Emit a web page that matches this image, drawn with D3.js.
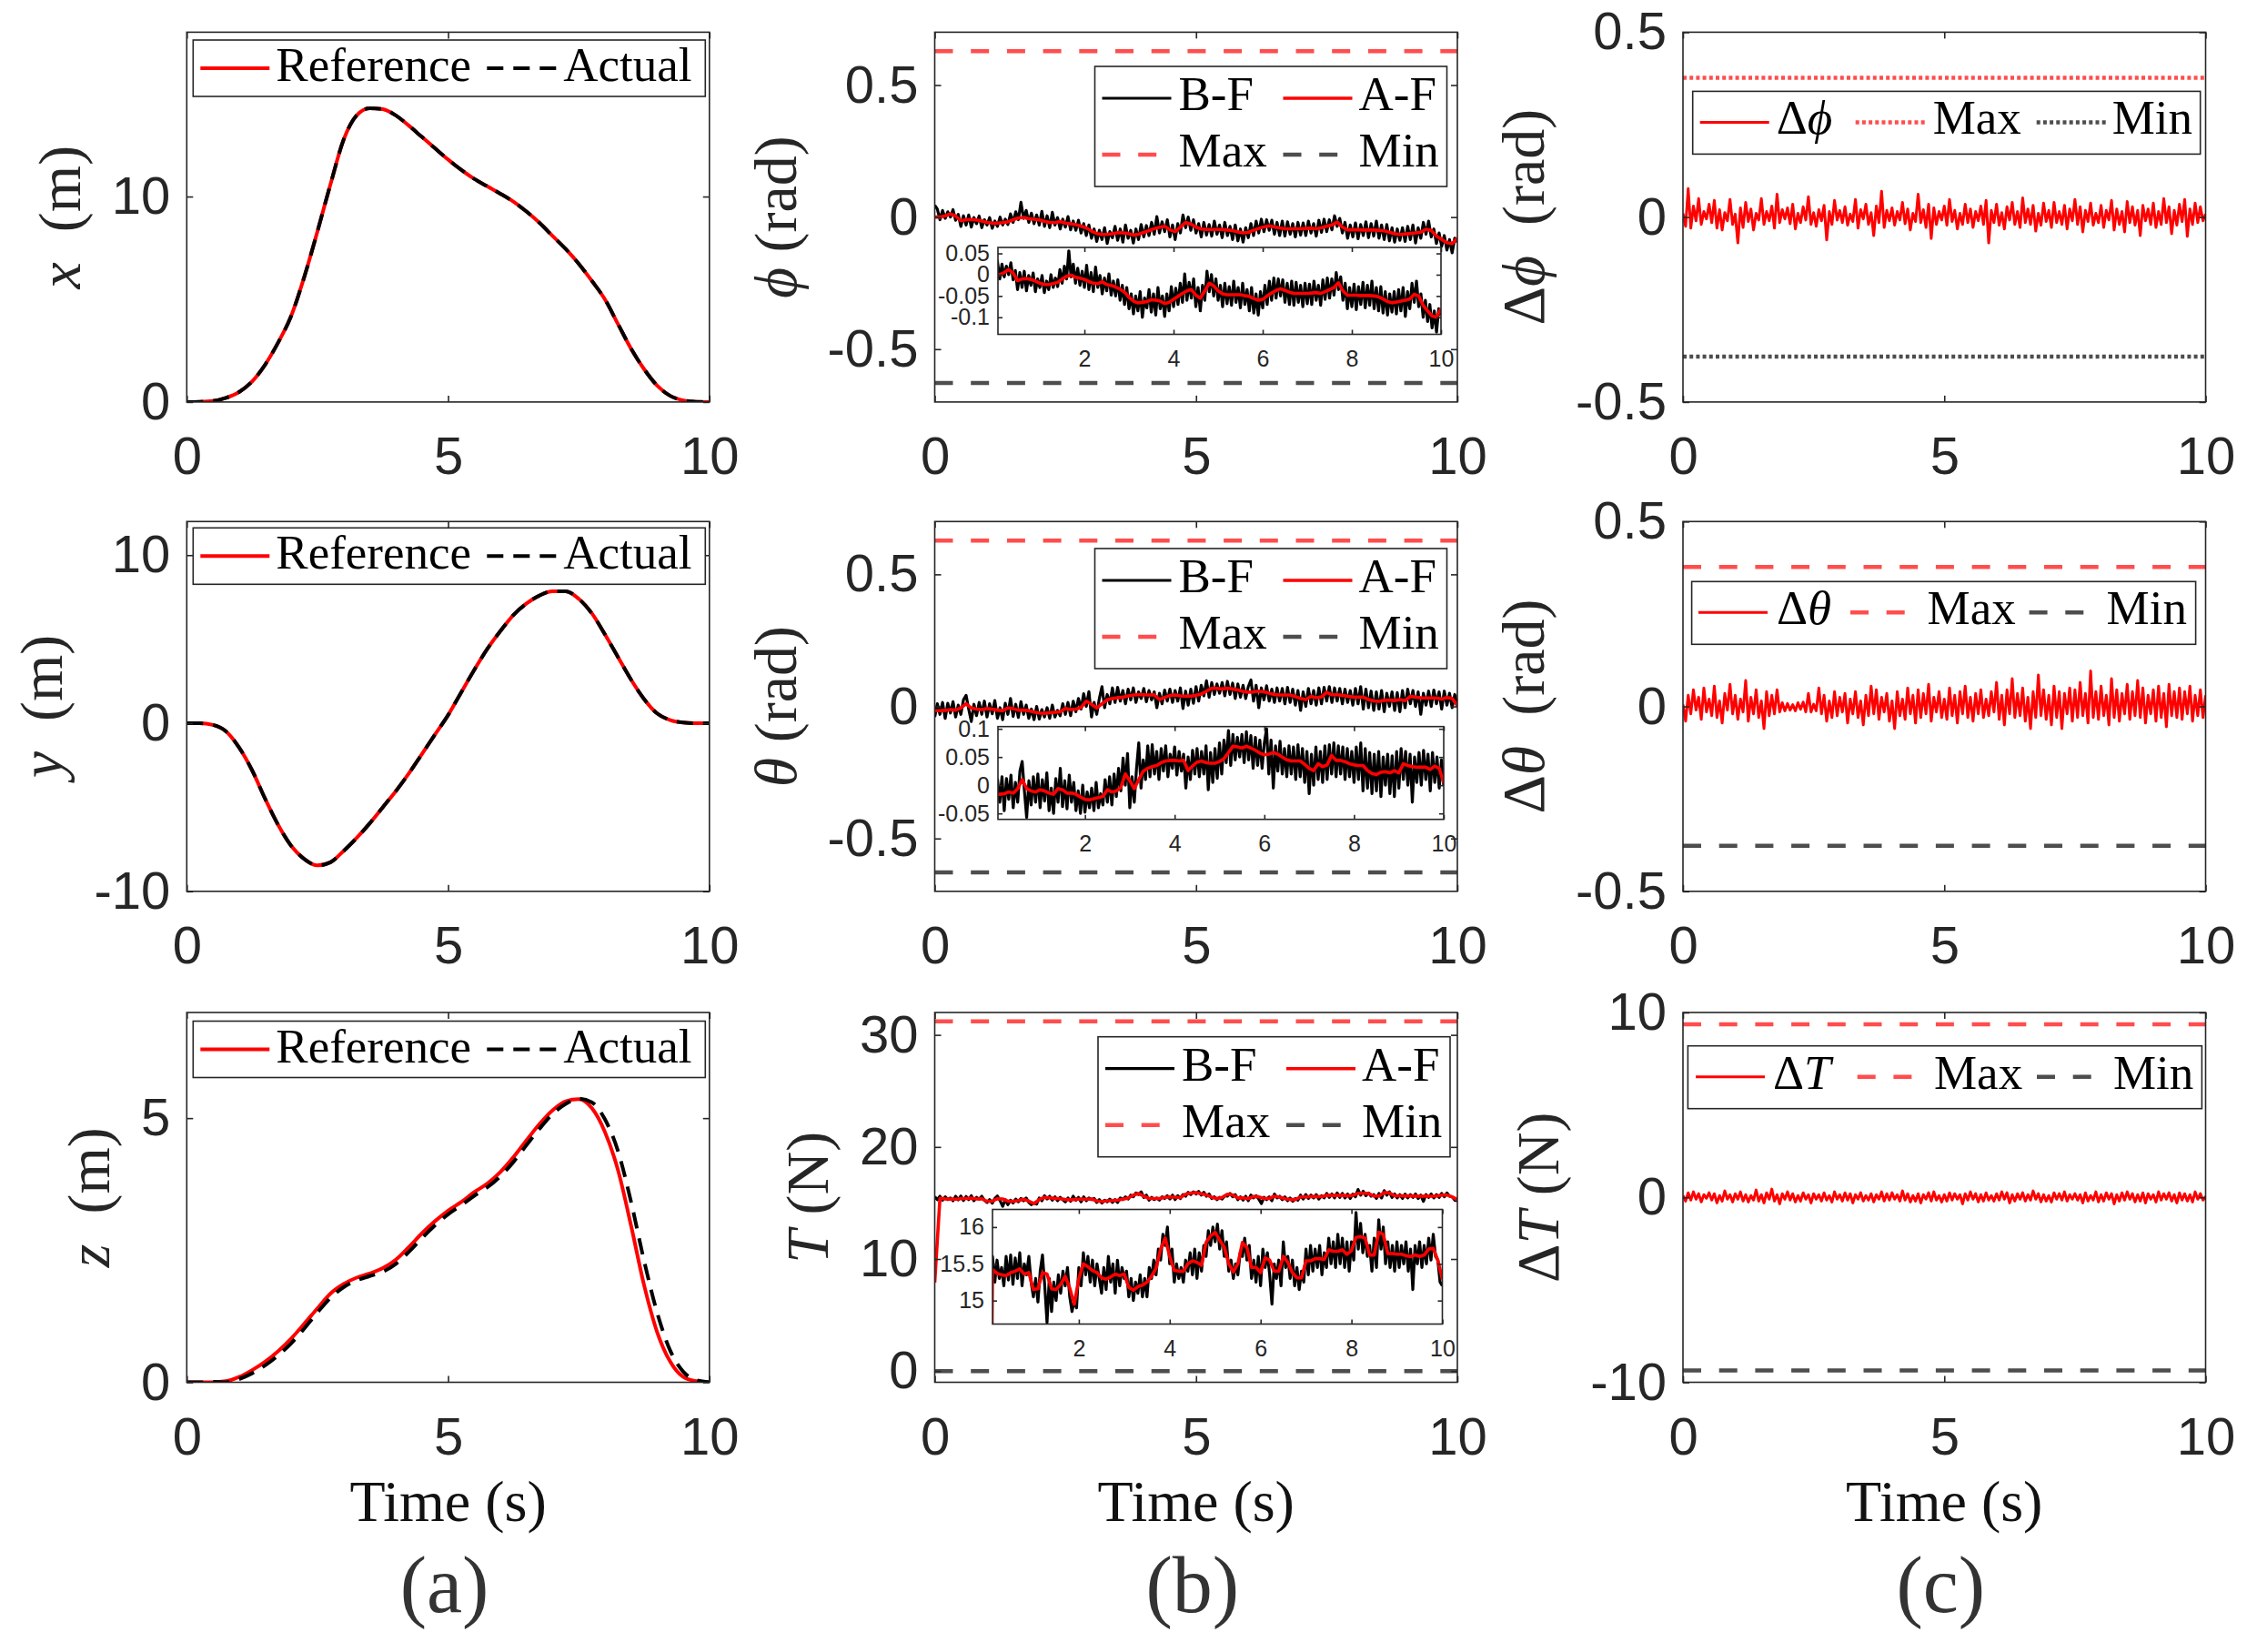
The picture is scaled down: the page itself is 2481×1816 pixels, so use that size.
<!DOCTYPE html>
<html>
<head>
<meta charset="utf-8">
<script src="https://cdn.jsdelivr.net/npm/d3@7"></script>
<style>
  body { margin: 0; background: #fff; }
  text { white-space: pre; }
</style>
</head>
<body>
<svg id="fig" width="2481" height="1816"></svg>
<script>
// time bases (s)
const tSmooth = d3.range(41).map(i => i * 0.25);
const tCoarse = d3.range(101).map(i => i * 0.1);
const tFine = d3.range(201).map(i => i * 0.05);

// column (a): position tracking, reference vs actual (m)
const xRef = [0, 0.01, 0.05, 0.2, 0.48, 1.0, 1.82, 2.9, 4.2, 6.1, 8.3, 10.6, 12.76, 13.95, 14.3, 14.25, 13.95, 13.45, 12.9, 12.35,
  11.8, 11.3, 10.86, 10.5, 10.14, 9.75, 9.27, 8.72, 8.08, 7.45, 6.73, 5.9, 5.0, 3.8, 2.6, 1.6, 0.8, 0.3, 0.08, 0.01, 0];
const xAct = [0, 0.01, 0.05, 0.2, 0.48, 1.0, 1.82, 2.9, 4.2, 6.1, 8.3, 10.6, 12.76, 13.95, 14.3, 14.25, 13.95, 13.45, 12.9, 12.35,
  11.8, 11.3, 10.86, 10.5, 10.14, 9.75, 9.27, 8.72, 8.08, 7.45, 6.73, 5.9, 5.0, 3.8, 2.6, 1.6, 0.8, 0.3, 0.08, 0.01, 0];
const yRef = [0, 0, -0.1, -0.48, -1.44, -2.8, -4.5, -6.06, -7.3, -8.08, -8.46, -8.27, -7.6, -6.83, -5.96, -5.0, -4.04, -2.98, -1.83, -0.67,
  0.48, 1.83, 3.17, 4.42, 5.48, 6.44, 7.12, 7.6, 7.85, 7.85, 7.4, 6.54, 5.29, 3.94, 2.6, 1.44, 0.58, 0.19, 0.04, 0, 0];
const yAct = [0, 0, -0.1, -0.48, -1.44, -2.8, -4.5, -6.06, -7.3, -8.08, -8.46, -8.27, -7.6, -6.83, -5.96, -5.0, -4.04, -2.98, -1.83, -0.67,
  0.48, 1.83, 3.17, 4.42, 5.48, 6.44, 7.12, 7.6, 7.85, 7.85, 7.4, 6.54, 5.29, 3.94, 2.6, 1.44, 0.58, 0.19, 0.04, 0, 0];
const zRef = [0, 0, 0, 0.02, 0.1, 0.23, 0.39, 0.59, 0.83, 1.11, 1.4, 1.68, 1.86, 1.98, 2.06, 2.16, 2.32, 2.56, 2.82, 3.05,
  3.25, 3.41, 3.6, 3.76, 3.98, 4.26, 4.58, 4.89, 5.15, 5.32, 5.36, 5.19, 4.74, 4.02, 2.97, 1.84, 0.95, 0.39, 0.1, 0.02, 0];
const zAct = [0, 0, 0.01, 0, 0.06, 0.17, 0.32, 0.51, 0.74, 1.02, 1.32, 1.6, 1.8, 1.93, 2.01, 2.09, 2.24, 2.47, 2.73, 2.97,
  3.18, 3.35, 3.53, 3.69, 3.9, 4.17, 4.49, 4.8, 5.08, 5.27, 5.37, 5.3, 4.98, 4.38, 3.42, 2.3, 1.32, 0.6, 0.2, 0.04, 0];

// column (b): before filtering (B-F, every 0.05 s) and after filtering (A-F, every 0.1 s)
const phiBF = [
  0.045, 0.030, -0.010, 0.025, -0.005, 0.020, 0.000, 0.028, -0.012, 0.010,
  -0.035, 0.005, -0.030, 0.008, -0.038, -0.002, -0.025, 0.004, -0.040, -0.010,
  -0.030, -0.002, -0.042, -0.015, -0.035, 0.000, -0.030, -0.008, -0.028, 0.012,
  -0.020, 0.020, -0.010, 0.056, -0.005, 0.025, -0.020, 0.015, -0.025, 0.008,
  -0.030, 0.022, -0.035, 0.005, -0.040, 0.018, -0.030, -0.002, -0.045, -0.008,
  -0.038, 0.002, -0.048, -0.015, -0.050, -0.012, -0.060, -0.025, -0.070, -0.030,
  -0.080, -0.045, -0.092, -0.050, -0.085, -0.040, -0.100, -0.055, -0.078, -0.035,
  -0.088, -0.045, -0.095, -0.030, -0.080, -0.050, -0.098, -0.045, -0.085, -0.028,
  -0.075, -0.032, -0.070, -0.020, -0.065, 0.002, -0.060, -0.018, -0.055, -0.010,
  -0.075, -0.030, -0.085, -0.025, -0.060, 0.008, -0.040, 0.000, -0.050, -0.010,
  -0.060, -0.025, -0.075, -0.020, -0.068, -0.028, -0.072, -0.015, -0.065, -0.030,
  -0.078, -0.020, -0.070, -0.035, -0.085, -0.030, -0.090, -0.045, -0.095, -0.040,
  -0.078, -0.025, -0.070, -0.015, -0.060, -0.008, -0.055, -0.010, -0.050, -0.012,
  -0.065, -0.020, -0.070, -0.015, -0.072, -0.018, -0.065, -0.025, -0.075, -0.020,
  -0.068, -0.022, -0.070, -0.015, -0.060, -0.025, -0.072, -0.012, -0.058, -0.008,
  -0.055, -0.010, -0.048, 0.005, -0.035, -0.005, -0.060, -0.020, -0.080, -0.030,
  -0.075, -0.022, -0.082, -0.028, -0.070, -0.018, -0.078, -0.025, -0.072, -0.015,
  -0.080, -0.030, -0.085, -0.028, -0.090, -0.040, -0.095, -0.045, -0.088, -0.040,
  -0.092, -0.035, -0.085, -0.030, -0.098, -0.040, -0.080, -0.020, -0.065, -0.015,
  -0.075, -0.045, -0.100, -0.060, -0.110, -0.070, -0.125, -0.085, -0.135, -0.080,
  -0.095];
const phiAF = [
  0.000, 0.000, 0.005, 0.012, 0.004, -0.014, -0.010, -0.009, -0.011, -0.015,
  -0.020, -0.023, -0.023, -0.021, -0.018, -0.010, -0.004, -0.001, -0.006, -0.008,
  -0.011, -0.016, -0.020, -0.021, -0.017, -0.023, -0.025, -0.029, -0.034, -0.041,
  -0.053, -0.062, -0.066, -0.065, -0.063, -0.059, -0.060, -0.062, -0.068, -0.065,
  -0.058, -0.051, -0.044, -0.038, -0.035, -0.048, -0.055, -0.038, -0.020, -0.026,
  -0.038, -0.045, -0.047, -0.047, -0.047, -0.047, -0.049, -0.051, -0.056, -0.060,
  -0.058, -0.050, -0.043, -0.037, -0.033, -0.037, -0.041, -0.044, -0.044, -0.044,
  -0.044, -0.043, -0.042, -0.044, -0.040, -0.035, -0.030, -0.019, -0.038, -0.048,
  -0.048, -0.048, -0.049, -0.049, -0.049, -0.050, -0.052, -0.057, -0.063, -0.066,
  -0.064, -0.062, -0.060, -0.057, -0.046, -0.050, -0.072, -0.085, -0.097, -0.100,
  -0.080];
const thetaBF = [
  -0.040, 0.010, -0.030, 0.015, -0.045, 0.012, -0.025, 0.018, -0.040, 0.005,
  -0.030, 0.025, 0.042, -0.010, -0.057, 0.008, -0.035, 0.015, -0.030, 0.020,
  -0.040, 0.010, -0.028, 0.022, -0.045, -0.005, -0.050, 0.012, -0.030, 0.030,
  -0.038, 0.008, -0.042, 0.018, -0.030, 0.005, -0.045, -0.010, -0.050, 0.000,
  -0.048, -0.012, -0.040, -0.005, -0.045, 0.005, -0.040, -0.015, -0.035, 0.010,
  -0.030, 0.015, -0.035, 0.020, -0.020, 0.030, -0.010, 0.048, 0.000, 0.056,
  -0.040, 0.015, -0.030, 0.030, 0.075, -0.005, 0.045, 0.010, 0.070, 0.015,
  0.072, 0.020, 0.060, 0.010, 0.065, 0.025, 0.070, 0.015, 0.055, 0.030,
  0.068, 0.018, 0.060, 0.025, 0.055, -0.005, 0.050, 0.010, 0.062, 0.020,
  0.065, 0.015, 0.060, 0.020, 0.070, -0.008, 0.058, 0.005, 0.065, 0.012,
  0.075, 0.020, 0.080, 0.040, 0.097, 0.035, 0.090, 0.045, 0.085, 0.050,
  0.090, 0.040, 0.095, 0.045, 0.088, 0.030, 0.085, 0.035, 0.080, 0.030,
  0.075, 0.100, 0.020, 0.080, -0.005, 0.070, 0.025, 0.078, 0.020, 0.065,
  0.015, 0.070, 0.020, 0.068, 0.010, 0.072, 0.015, 0.065, 0.005, 0.060,
  -0.015, 0.055, 0.000, 0.068, 0.010, 0.060, 0.005, 0.070, 0.010, 0.072,
  0.020, 0.075, 0.015, 0.070, 0.020, 0.068, 0.010, 0.065, 0.015, 0.060,
  0.005, 0.068, 0.010, 0.075, -0.010, 0.065, -0.005, 0.058, -0.015, 0.055,
  -0.010, 0.060, -0.020, 0.050, 0.000, 0.055, -0.015, 0.052, -0.020, 0.060,
  -0.005, 0.065, 0.010, 0.060, 0.000, 0.055, -0.030, 0.050, 0.005, 0.058,
  0.000, 0.062, 0.010, 0.055, -0.010, 0.058, 0.005, 0.050, -0.005, 0.045,
  0.000];
const thetaAF = [
  -0.016, -0.016, -0.015, -0.012, -0.014, -0.006, 0.010, -0.006, -0.010, -0.012,
  -0.008, -0.010, -0.014, -0.016, -0.006, -0.008, -0.014, -0.014, -0.016, -0.021,
  -0.025, -0.026, -0.024, -0.022, -0.020, -0.008, -0.012, -0.010, -0.004, 0.020,
  0.008, -0.006, 0.010, 0.025, 0.030, 0.033, 0.035, 0.040, 0.043, 0.044,
  0.044, 0.043, 0.044, 0.026, 0.034, 0.041, 0.043, 0.040, 0.039, 0.039,
  0.042, 0.047, 0.058, 0.069, 0.068, 0.066, 0.069, 0.066, 0.062, 0.057,
  0.054, 0.055, 0.058, 0.055, 0.050, 0.045, 0.043, 0.043, 0.043, 0.037,
  0.030, 0.026, 0.038, 0.033, 0.036, 0.053, 0.044, 0.044, 0.042, 0.038,
  0.036, 0.035, 0.035, 0.026, 0.021, 0.019, 0.023, 0.024, 0.022, 0.026,
  0.022, 0.038, 0.035, 0.033, 0.032, 0.032, 0.032, 0.028, 0.034, 0.030,
  0.004];
const thrustBF = [
  15.55, 15.30, 15.60, 15.25, 15.55, 15.30, 15.45, 15.20, 15.60, 15.28,
  15.62, 15.22, 15.58, 15.30, 15.65, 15.20, 15.50, 15.35, 15.60, 15.25,
  15.05, 15.30, 14.98, 15.40, 15.62, 15.20, 14.70, 15.30, 14.85, 15.25,
  15.00, 15.35, 15.10, 15.40, 15.20, 15.45, 15.05, 14.85, 15.00, 14.90,
  15.45, 15.20, 15.65, 15.35, 15.60, 15.25, 15.55, 15.20, 15.50, 15.30,
  15.10, 15.45, 15.15, 15.60, 15.25, 15.50, 15.10, 15.55, 15.20, 15.45,
  15.30, 15.40, 15.05, 15.30, 15.00, 15.25, 15.10, 15.35, 15.05, 15.30,
  15.05, 15.45, 15.30, 15.55, 15.35, 15.70, 15.55, 15.90, 15.75, 16.00,
  15.50, 15.70, 15.25, 15.50, 15.30, 15.45, 15.25, 15.55, 15.40, 15.65,
  15.35, 15.70, 15.30, 15.65, 15.40, 15.75, 15.60, 15.95, 15.75, 16.00,
  15.80, 16.04, 15.70, 15.95, 15.60, 15.80, 15.40, 15.55, 15.30, 15.50,
  15.35, 15.65, 15.60, 15.85, 15.55, 15.75, 15.30, 15.55, 15.25, 15.60,
  15.20, 15.70, 15.45, 15.65, 15.35, 14.95, 15.50, 15.30, 15.55, 15.20,
  15.80, 15.45, 15.60, 15.30, 15.55, 15.20, 15.45, 15.15, 15.40, 15.25,
  15.70, 15.35, 15.75, 15.40, 15.70, 15.45, 15.75, 15.35, 15.65, 15.45,
  15.85, 15.50, 15.80, 15.45, 15.90, 15.50, 15.85, 15.45, 15.80, 15.40,
  15.80, 15.55, 16.20, 15.70, 16.05, 15.65, 15.90, 15.60, 15.75, 15.40,
  15.85, 15.45, 16.10, 15.70, 16.00, 15.50, 15.80, 15.45, 15.75, 15.40,
  15.80, 15.45, 15.75, 15.50, 15.80, 15.40, 15.70, 15.15, 15.75, 15.50,
  15.80, 15.45, 15.75, 15.50, 15.85, 15.55, 15.90, 15.60, 15.55, 15.25,
  15.20];
const thrustAF = [
  7.90, 15.42, 15.37, 15.35, 15.34, 15.38, 15.40, 15.43, 15.36, 15.38,
  15.15, 15.16, 15.38, 15.36, 15.16, 15.15, 15.22, 15.33, 15.17, 14.95,
  15.30, 15.50, 15.46, 15.41, 15.38, 15.31, 15.29, 15.32, 15.36, 15.34,
  15.36, 15.18, 15.14, 15.19, 15.21, 15.25, 15.33, 15.44, 15.70, 15.85,
  15.60, 15.41, 15.40, 15.40, 15.50, 15.54, 15.52, 15.48, 15.79, 15.88,
  15.93, 15.82, 15.73, 15.50, 15.39, 15.50, 15.79, 15.72, 15.45, 15.45,
  15.38, 15.58, 15.55, 15.40, 15.40, 15.60, 15.52, 15.38, 15.31, 15.31,
  15.54, 15.54, 15.57, 15.57, 15.56, 15.69, 15.67, 15.67, 15.69, 15.63,
  15.68, 15.86, 15.87, 15.85, 15.62, 15.62, 15.93, 15.90, 15.64, 15.64,
  15.63, 15.63, 15.61, 15.60, 15.62, 15.60, 15.62, 15.70, 15.71, 15.55,
  15.29];

// column (c): tracking errors, every 0.05 s
const dPhi = [
  0.010, -0.025, 0.077, -0.030, 0.030, -0.010, 0.050, -0.020, 0.015, -0.005,
  0.035, -0.015, 0.045, -0.030, 0.020, -0.035, 0.012, -0.010, 0.048, -0.020,
  0.008, -0.070, 0.025, -0.028, 0.040, -0.012, 0.022, -0.035, 0.010, -0.008,
  0.050, -0.020, 0.015, -0.010, 0.030, -0.030, 0.062, -0.015, 0.020, -0.005,
  0.025, -0.018, 0.035, -0.032, 0.010, -0.015, 0.028, -0.008, 0.055, -0.020,
  0.012, -0.025, 0.020, -0.010, 0.032, -0.062, 0.015, -0.020, 0.045, -0.008,
  0.018, -0.015, 0.028, -0.022, 0.008, -0.012, 0.048, -0.030, 0.020, -0.005,
  0.035, -0.020, 0.012, -0.050, 0.030, -0.015, 0.070, -0.028, 0.018, -0.010,
  0.025, -0.022, 0.015, -0.008, 0.040, -0.018, 0.022, -0.035, 0.010, -0.012,
  0.062, -0.015, 0.020, -0.028, 0.035, -0.058, 0.025, -0.020, 0.015, -0.008,
  0.030, -0.022, 0.048, -0.012, 0.018, -0.032, 0.010, -0.020, 0.035, -0.015,
  0.022, -0.028, 0.015, -0.010, 0.030, -0.020, 0.045, -0.070, 0.018, -0.015,
  0.035, -0.022, 0.012, -0.032, 0.028, -0.008, 0.040, -0.020, 0.015, -0.028,
  0.052, -0.015, 0.022, -0.020, 0.032, -0.038, 0.010, -0.022, 0.038, -0.012,
  0.018, -0.028, 0.040, -0.015, 0.015, -0.020, 0.032, -0.032, 0.022, -0.010,
  0.048, -0.020, 0.028, -0.040, 0.018, -0.012, 0.038, -0.022, 0.010, -0.015,
  0.032, -0.028, 0.018, -0.008, 0.045, -0.035, 0.022, -0.020, 0.015, -0.040,
  0.042, -0.015, 0.028, -0.022, 0.018, -0.050, 0.032, -0.010, 0.022, -0.020,
  0.038, -0.028, 0.015, -0.020, 0.050, -0.015, 0.028, -0.045, 0.018, -0.022,
  0.035, -0.012, 0.048, -0.052, 0.022, -0.020, 0.038, -0.015, 0.028, -0.010,
  0.008];
const dTheta = [
  0.005, -0.040, 0.030, -0.020, 0.045, -0.010, 0.025, -0.035, 0.050, -0.015,
  0.020, -0.025, 0.055, -0.030, 0.015, -0.045, 0.035, -0.010, 0.060, -0.020,
  0.030, -0.035, 0.020, -0.015, 0.070, -0.040, 0.025, -0.020, 0.045, -0.030,
  0.015, -0.060, 0.040, -0.025, 0.030, -0.020, 0.045, -0.015, 0.010, -0.012,
  0.008, -0.010, 0.005, -0.012, 0.010, -0.008, 0.012, -0.015, 0.035, -0.015,
  0.006, -0.012, 0.050, -0.020, 0.030, -0.040, 0.015, -0.030, 0.040, -0.025,
  0.025, -0.015, 0.035, -0.045, 0.020, -0.020, 0.040, -0.030, 0.015, -0.050,
  0.030, -0.025, 0.055, -0.020, 0.045, -0.035, 0.025, -0.015, 0.035, -0.040,
  0.015, -0.060, 0.040, -0.025, 0.020, -0.035, 0.050, -0.020, 0.030, -0.045,
  0.045, -0.030, 0.035, -0.020, 0.060, -0.040, 0.025, -0.015, 0.040, -0.030,
  0.020, -0.035, 0.050, -0.025, 0.030, -0.045, 0.040, -0.020, 0.055, -0.030,
  0.025, -0.040, 0.035, -0.020, 0.045, -0.030, 0.020, -0.025, 0.040, -0.015,
  0.065, -0.035, 0.030, -0.050, 0.045, -0.020, 0.075, -0.030, 0.035, -0.025,
  0.050, -0.040, 0.025, -0.060, 0.040, -0.030, 0.085, -0.025, 0.045, -0.035,
  0.030, -0.050, 0.055, -0.030, 0.040, -0.060, 0.035, -0.020, 0.050, -0.040,
  0.045, -0.030, 0.065, -0.025, 0.035, -0.045, 0.096, -0.030, 0.040, -0.035,
  0.055, -0.025, 0.030, -0.050, 0.075, -0.030, 0.045, -0.040, 0.035, -0.020,
  0.060, -0.035, 0.040, -0.025, 0.070, -0.030, 0.050, -0.045, 0.030, -0.020,
  0.045, -0.040, 0.055, -0.030, 0.035, -0.055, 0.060, -0.025, 0.040, -0.030,
  0.050, -0.035, 0.040, -0.020, 0.055, -0.040, 0.030, -0.025, 0.045, -0.030,
  0.030];
const dThrust = [
  0.10, -0.20, 0.25, -0.15, 0.30, -0.10, 0.20, -0.25, 0.15, -0.05,
  0.25, -0.15, 0.20, -0.30, 0.10, -0.20, 0.35, -0.10, 0.15, -0.25,
  0.20, -0.10, 0.30, -0.20, 0.15, -0.25, 0.10, -0.15, 0.40, -0.20,
  0.15, -0.30, 0.25, -0.10, 0.45, -0.20, 0.15, -0.35, 0.20, -0.10,
  0.30, -0.15, 0.20, -0.25, 0.10, -0.20, 0.25, -0.10, 0.15, -0.30,
  0.20, -0.10, 0.15, -0.20, 0.25, -0.15, 0.10, -0.25, 0.30, -0.10,
  0.15, -0.20, 0.25, -0.15, 0.20, -0.30, 0.15, -0.10, 0.25, -0.20,
  0.10, -0.15, 0.20, -0.25, 0.15, -0.10, 0.30, -0.20, 0.20, -0.15,
  0.25, -0.10, 0.15, -0.20, 0.35, -0.15, 0.20, -0.25, 0.10, -0.20,
  0.20, -0.30, 0.15, -0.10, 0.25, -0.20, 0.30, -0.15, 0.10, -0.25,
  0.15, -0.20, 0.25, -0.15, 0.20, -0.10, 0.15, -0.35, 0.20, -0.15,
  0.30, -0.10, 0.20, -0.25, 0.15, -0.20, 0.25, -0.15, 0.10, -0.20,
  0.20, -0.15, 0.30, -0.10, 0.25, -0.30, 0.15, -0.20, 0.20, -0.10,
  0.25, -0.20, 0.15, -0.15, 0.35, -0.10, 0.20, -0.25, 0.15, -0.20,
  0.10, -0.25, 0.25, -0.10, 0.20, -0.15, 0.30, -0.20, 0.15, -0.10,
  0.20, -0.15, 0.15, -0.30, 0.25, -0.20, 0.10, -0.15, 0.30, -0.25,
  0.15, -0.20, 0.25, -0.10, 0.20, -0.35, 0.15, -0.20, 0.25, -0.15,
  0.30, -0.10, 0.20, -0.25, 0.15, -0.20, 0.25, -0.30, 0.20, -0.10,
  0.15, -0.25, 0.30, -0.15, 0.20, -0.10, 0.25, -0.20, 0.15, -0.30,
  0.25, -0.15, 0.20, -0.20, 0.15, -0.25, 0.30, -0.10, 0.20, -0.15,
  0.05];

// bounds
const attMax = 0.628, attMin = -0.628;
const thrustMax = 31.2, thrustMin = 0;
const dAttMax = 0.377, dAttMin = -0.377;
const dThrustMax = 9.36, dThrustMin = -9.36;

// tick labels
const xTicks = [0, 5, 10];
const insetXTicks = [2, 4, 6, 8, 10];

// ---------- layout ----------
const W = 574.5, H = 406.5;
const colX = [205.3, 1027.5, 1850];
const rowY = [31.4, 569.3, 1109];
const ink = "#262626";
const tickFont = "'Liberation Sans', Arial, Helvetica, sans-serif";
const texFont = "'Liberation Serif', 'Times New Roman', 'DejaVu Serif', serif";

const styles = {
  ref:    { stroke: "#ff0000", width: 4 },
  act:    { stroke: "#000000", width: 4, dash: "18,11" },
  bf:     { stroke: "#000000", width: 3.2 },
  af:     { stroke: "#ff0000", width: 3.6 },
  err:    { stroke: "#ff0000", width: 3 },
  maxDash:{ stroke: "#ff4d4d", width: 4.5, dash: "20,19.7" },
  minDash:{ stroke: "#4d4d4d", width: 4.5, dash: "20,19.7" },
  maxDot: { stroke: "#ff4d4d", width: 4.5, dash: "4,3.2" },
  minDot: { stroke: "#4d4d4d", width: 4.5, dash: "4,3.2" }
};

const root = d3.select("#fig");
root.append("rect").attr("width", 2481).attr("height", 1816).attr("fill", "#fff");
// small downward shift keeps the top tick labels inside the page
const svg = root.append("g").attr("transform", "translate(0,4)");

function styled(sel, st, scale) {
  sel.attr("fill", "none")
    .attr("stroke", st.stroke)
    .attr("stroke-width", st.width * (scale || 1))
    .attr("stroke-dasharray", st.dash || null)
    .attr("stroke-linejoin", "round");
}

function richText(sel, parts) {
  parts.forEach(p => {
    sel.append("tspan").text(p[0]).attr("font-style", p[1] ? "italic" : "normal");
  });
}

function zip(t, v) { return t.map((d, i) => [d, v[i]]); }

let clipCount = 0;
function drawAxes(g, x, y, w, h, opt) {
  const left = g.append("g")
    .call(d3.axisLeft(y).tickValues(opt.yTicks).tickSize(-opt.tick).tickPadding(opt.padY)
      .tickFormat(d => String(d)));
  const bottom = g.append("g").attr("transform", `translate(0,${h})`)
    .call(d3.axisBottom(x).tickValues(opt.xTicks).tickSize(-opt.tick).tickPadding(opt.padX)
      .tickFormat(d => String(d)));
  const right = g.append("g").attr("transform", `translate(${w},0)`)
    .call(d3.axisRight(y).tickValues(opt.yTicks).tickSize(-opt.tick).tickFormat(""));
  const top = g.append("g")
    .call(d3.axisTop(x).tickValues(opt.xTicks).tickSize(-opt.tick).tickFormat(""));
  [left, bottom, right, top].forEach(a => {
    a.select(".domain").remove();
    a.selectAll("line").attr("stroke", ink).attr("stroke-width", 1.6);
    a.selectAll("text").attr("font-family", tickFont).attr("font-size", opt.font).attr("fill", ink);
  });
  g.append("rect").attr("width", w).attr("height", h)
    .attr("fill", "none").attr("stroke", ink).attr("stroke-width", 1.6);
  return left;
}

function drawLines(g, x, y, w, h, p) {
  const id = "clip" + (clipCount++);
  g.append("clipPath").attr("id", id).append("rect").attr("width", w).attr("height", h);
  const plot = g.append("g").attr("clip-path", `url(#${id})`);
  (p.hlines || []).forEach(hl => {
    plot.append("line")
      .attr("x1", 0).attr("x2", w)
      .attr("y1", y(hl.v)).attr("y2", y(hl.v))
      .call(styled, styles[hl.style]);
  });
  p.series.forEach(s => {
    plot.append("path")
      .datum(zip(s.t, s.v))
      .attr("d", d3.line().x(d => x(d[0])).y(d => y(d[1])).curve(s.curve || d3.curveLinear))
      .call(styled, styles[s.style], s.scale);
  });
}

function drawLegend(g, L) {
  const lg = g.append("g").attr("transform", `translate(${L.x},${L.y})`);
  lg.append("rect").attr("width", L.w).attr("height", L.h)
    .attr("fill", "#fff").attr("stroke", ink).attr("stroke-width", 1.6);
  L.rows.forEach(r => {
    r.items.forEach(it => {
      lg.append("line")
        .attr("x1", it.sx).attr("x2", it.sx + 76)
        .attr("y1", r.ly).attr("y2", r.ly)
        .call(styled, styles[it.style]);
      lg.append("text")
        .attr("x", it.tx).attr("y", r.by)
        .attr("font-family", texFont).attr("font-size", 53).attr("fill", "#000")
        .call(richText, it.label);
    });
  });
}

function drawPanel(p) {
  const g = svg.append("g").attr("transform", `translate(${colX[p.col]},${rowY[p.row]})`);
  const x = d3.scaleLinear().domain([0, 10]).range([0, W]);
  const y = d3.scaleLinear().domain(p.yDomain).range([H, 0]);

  drawLines(g, x, y, W, H, p);
  const left = drawAxes(g, x, y, W, H, { yTicks: p.yTicks, xTicks: xTicks, tick: 7, padY: 18, padX: 38, font: 58 });

  // y label sits just left of the tick labels
  const lx = left.node().getBBox().x - 35;
  g.append("text")
    .attr("transform", `translate(${lx},${H / 2}) rotate(-90)`)
    .attr("text-anchor", "middle")
    .attr("font-family", texFont).attr("font-size", 66).attr("fill", ink)
    .call(richText, p.ylabel);

  if (p.legend) drawLegend(g, p.legend);

  if (p.inset) {
    const s = p.inset;
    const ig = g.append("g").attr("transform", `translate(${s.x},${s.y})`);
    ig.append("rect").attr("width", s.w).attr("height", s.h).attr("fill", "#fff");
    const ix = d3.scaleLinear().domain(s.xDomain).range([0, s.w]);
    const iy = d3.scaleLinear().domain(s.yDomain).range([s.h, 0]);
    drawLines(ig, ix, iy, s.w, s.h, { series: p.series });
    drawAxes(ig, ix, iy, s.w, s.h, { yTicks: s.yTicks, xTicks: insetXTicks, tick: 5, padY: 9, padX: 18, font: 25 });
  }

  if (p.row === 2) {
    svg.append("text")
      .attr("x", colX[p.col] + W / 2).attr("y", 1668)
      .attr("text-anchor", "middle")
      .attr("font-family", texFont).attr("font-size", 64).attr("fill", "#111")
      .text("Time (s)");
    svg.append("text")
      .attr("x", colX[p.col] + W / 2 - 4).attr("y", 1768)
      .attr("text-anchor", "middle")
      .attr("font-family", texFont).attr("font-size", 88).attr("fill", "#333")
      .text(["(a)", "(b)", "(c)"][p.col]);
  }
}

// legend layouts
const legA = y0 => ({
  x: 7, y: y0, w: 563, h: 62, rows: [{ ly: 31, by: 45, items: [
    { sx: 8, tx: 91, style: "ref", label: [["Reference", false]] },
    { sx: 323, tx: 407, style: "act", label: [["Actual", false]] }
  ] }]
});
const legB = (x0, y0) => ({
  x: x0, y: y0, w: 387, h: 132, rows: [
    { ly: 35, by: 48, items: [
      { sx: 8, tx: 92, style: "bf", label: [["B-F", false]] },
      { sx: 207, tx: 290, style: "af", label: [["A-F", false]] }
    ] },
    { ly: 97, by: 110, items: [
      { sx: 8, tx: 92, style: "maxDash", label: [["Max", false]] },
      { sx: 207, tx: 290, style: "minDash", label: [["Min", false]] }
    ] }
  ]
});
const legC = (x0, y0, w, sx, tx, sym, maxS, minS) => ({
  x: x0, y: y0, w: w, h: 69, rows: [{ ly: 34, by: 47, items: [
    { sx: sx[0], tx: tx[0], style: "err", label: sym },
    { sx: sx[1], tx: tx[1], style: maxS, label: [["Max", false]] },
    { sx: sx[2], tx: tx[2], style: minS, label: [["Min", false]] }
  ] }]
});

const panels = [
  // column (a)
  { col: 0, row: 0, yDomain: [0, 18], yTicks: [0, 10], ylabel: [["x", true], ["  (m)", false]],
    series: [{ t: tSmooth, v: xRef, style: "ref", curve: d3.curveMonotoneX },
             { t: tSmooth, v: xAct, style: "act", curve: d3.curveMonotoneX }],
    legend: legA(8.6) },
  { col: 0, row: 1, yDomain: [-10, 12], yTicks: [-10, 0, 10], ylabel: [["y", true], ["  (m)", false]],
    series: [{ t: tSmooth, v: yRef, style: "ref", curve: d3.curveMonotoneX },
             { t: tSmooth, v: yAct, style: "act", curve: d3.curveMonotoneX }],
    legend: legA(7) },
  { col: 0, row: 2, yDomain: [0, 7], yTicks: [0, 5], ylabel: [["z", true], ["  (m)", false]],
    series: [{ t: tSmooth, v: zRef, style: "ref", curve: d3.curveMonotoneX },
             { t: tSmooth, v: zAct, style: "act", curve: d3.curveMonotoneX }],
    legend: legA(9.5) },
  // column (b)
  { col: 1, row: 0, yDomain: [-0.7, 0.7], yTicks: [-0.5, 0, 0.5], ylabel: [["ϕ", true], [" (rad)", false]],
    hlines: [{ v: attMax, style: "maxDash" }, { v: attMin, style: "minDash" }],
    series: [{ t: tFine, v: phiBF, style: "bf" }, { t: tCoarse, v: phiAF, style: "af" }],
    legend: legB(176, 37.6),
    inset: { x: 69.5, y: 236.6, w: 487, h: 95.5, xDomain: [0.06, 10], yDomain: [-0.14, 0.064], yTicks: [-0.1, -0.05, 0, 0.05] } },
  { col: 1, row: 1, yDomain: [-0.7, 0.7], yTicks: [-0.5, 0, 0.5], ylabel: [["θ", true], [" (rad)", false]],
    hlines: [{ v: attMax, style: "maxDash" }, { v: attMin, style: "minDash" }],
    series: [{ t: tFine, v: thetaBF, style: "bf" }, { t: tCoarse, v: thetaAF, style: "af" }],
    legend: legB(176, 29.7),
    inset: { x: 69.5, y: 225.4, w: 490, h: 102, xDomain: [0.06, 10], yDomain: [-0.0605, 0.104], yTicks: [-0.05, 0, 0.05, 0.1] } },
  { col: 1, row: 2, yDomain: [-1, 32], yTicks: [0, 10, 20, 30], ylabel: [["T", true], [" (N)", false]],
    hlines: [{ v: thrustMax, style: "maxDash" }, { v: thrustMin, style: "minDash" }],
    series: [{ t: tFine, v: thrustBF, style: "bf" }, { t: tCoarse, v: thrustAF, style: "af" }],
    legend: legB(179.5, 26.7),
    inset: { x: 63.5, y: 216.5, w: 494.5, h: 126, xDomain: [0.1, 10], yDomain: [14.68, 16.24], yTicks: [15, 15.5, 16] } },
  // column (c)
  { col: 2, row: 0, yDomain: [-0.5, 0.5], yTicks: [-0.5, 0, 0.5], ylabel: [["Δ", false], ["ϕ", true], ["  (rad)", false]],
    hlines: [{ v: dAttMax, style: "maxDot" }, { v: dAttMin, style: "minDot" }],
    series: [{ t: tFine, v: dPhi, style: "err" }],
    legend: legC(10.7, 65, 558, [8, 179, 378], [92, 264, 461], [["Δ", false], ["ϕ", true]], "maxDot", "minDot") },
  { col: 2, row: 1, yDomain: [-0.5, 0.5], yTicks: [-0.5, 0, 0.5], ylabel: [["Δ", false], ["θ", true], ["  (rad)", false]],
    hlines: [{ v: dAttMax, style: "maxDash" }, { v: dAttMin, style: "minDash" }],
    series: [{ t: tFine, v: dTheta, style: "err" }],
    legend: legC(9.6, 66, 554, [7.4, 174.4, 371], [93.4, 259, 456], [["Δ", false], ["θ", true]], "maxDash", "minDash") },
  { col: 2, row: 2, yDomain: [-10, 10], yTicks: [-10, 0, 10], ylabel: [["Δ", false], ["T", true], [" (N)", false]],
    hlines: [{ v: dThrustMax, style: "maxDash" }, { v: dThrustMin, style: "minDash" }],
    series: [{ t: tFine, v: dThrust, style: "err" }],
    legend: legC(5.4, 36.7, 565, [8.6, 186.3, 383.6], [93.6, 270.6, 467.6], [["Δ", false], ["T", true]], "maxDash", "minDash") }
];

panels.forEach(drawPanel);
</script>
</body>
</html>
